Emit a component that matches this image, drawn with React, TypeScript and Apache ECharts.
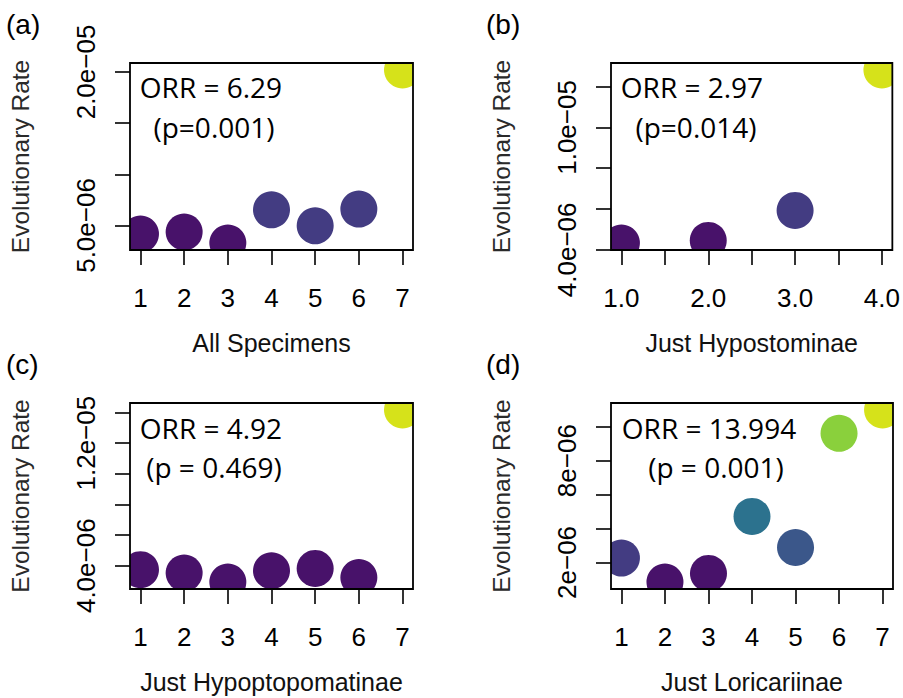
import React, { useEffect, useRef } from "react";
import * as echarts from "echarts";

// ---------- data ----------
const xA = [1, 2, 3, 4, 5, 6, 7];
const yA = [4.16e-6, 4.36e-6, 3.28e-6, 6.53e-6, 4.97e-6, 6.6e-6, 2.02e-5];
const xB = [1, 2, 3, 4];
const yB = [4.33e-6, 4.46e-6, 5.93e-6, 1.282e-5];
const xC = [1, 2, 3, 4, 5, 6, 7];
const yC = [3.74e-6, 3.52e-6, 2.93e-6, 3.67e-6, 3.82e-6, 3.23e-6, 1.417e-5];
const xD = [1, 2, 3, 4, 5, 6, 7];
const yD = [2.26e-6, 0.84e-6, 1.35e-6, 4.71e-6, 2.88e-6, 9.61e-6, 1.099e-5];

// tick positions and labels
const xTicksA = [1, 2, 3, 4, 5, 6, 7];
const xTicksB = [1, 1.5, 2, 2.5, 3, 3.5, 4];
const xLabelsB = [1, 2, 3, 4];
const yTicksA = [5e-6, 1e-5, 1.5e-5, 2e-5];
const yLabelValsA = [5e-6, 2e-5];
const yLabelTextA = ["5.0e\u221206", "2.0e\u221205"];
const yTicksB = [4e-6, 6e-6, 8e-6, 1e-5, 1.2e-5];
const yLabelValsB = [4e-6, 1e-5];
const yLabelTextB = ["4.0e\u221206", "1.0e\u221205"];
const yTicksC = [4e-6, 6e-6, 8e-6, 1e-5, 1.2e-5, 1.4e-5];
const yLabelValsC = [4e-6, 1.2e-5];
const yLabelTextC = ["4.0e\u221206", "1.2e\u221205"];
const yTicksD = [2e-6, 4e-6, 6e-6, 8e-6, 1e-5];
const yLabelValsD = [2e-6, 8e-6];
const yLabelTextD = ["2e\u221206", "8e\u221206"];

const xTitles = ["All Specimens", "Just Hypostominae", "Just Hypoptopomatinae", "Just Loricariinae"];
const panelLetters = ["(a)", "(b)", "(c)", "(d)"];
const orrLines = ["ORR = 6.29", "ORR = 2.97", "ORR = 4.92", "ORR = 13.994"];
const pLines = ["(p=0.001)", "(p=0.014)", "(p = 0.469)", "(p = 0.001)"];

// styles (colours per point)
const PURPLE = "#48126A";
const INDIGO = "#433C82";
const YELLOW = "#D6E21A";
const colorsA = [PURPLE, PURPLE, PURPLE, INDIGO, INDIGO, INDIGO, YELLOW];
const colorsB = [PURPLE, PURPLE, INDIGO, YELLOW];
const colorsC = [PURPLE, PURPLE, PURPLE, PURPLE, PURPLE, PURPLE, YELLOW];
const colorsD = [INDIGO, PURPLE, PURPLE, "#2C728E", "#3B578A", "#8AD03C", YELLOW];

// ---------- layout ----------
const grids = [
  { left: 130, top: 63, width: 283, height: 187 },
  { left: 611, top: 63, width: 282, height: 187 },
  { left: 130, top: 403, width: 283, height: 186 },
  { left: 611, top: 403, width: 282, height: 186 },
];

const SANS = "Liberation Sans";
const ANNO = "Open Sans";

function lim(v: number[]): [number, number] {
  const mn = Math.min(...v);
  const mx = Math.max(...v);
  const r = mx - mn;
  return [mn - 0.04 * r, mx + 0.04 * r];
}

export default function App() {
  const ref = useRef<HTMLDivElement>(null);
  useEffect(() => {
    if (!ref.current) return;
    const chart = echarts.init(ref.current, null, { renderer: "svg" });

    const panels = [
      { x: xA, y: yA, col: colorsA, xt: xTicksA, xl: xTicksA, xfmt: (v: number) => String(v), yt: yTicksA, ylv: yLabelValsA, ylt: yLabelTextA },
      { x: xB, y: yB, col: colorsB, xt: xTicksB, xl: xLabelsB, xfmt: (v: number) => v.toFixed(1), yt: yTicksB, ylv: yLabelValsB, ylt: yLabelTextB },
      { x: xC, y: yC, col: colorsC, xt: xTicksA, xl: xTicksA, xfmt: (v: number) => String(v), yt: yTicksC, ylv: yLabelValsC, ylt: yLabelTextC },
      { x: xD, y: yD, col: colorsD, xt: xTicksA, xl: xTicksA, xfmt: (v: number) => String(v), yt: yTicksD, ylv: yLabelValsD, ylt: yLabelTextD },
    ];

    const tickStyle = { show: true, inside: false, length: 15, lineStyle: { color: "#000", width: 1.6 } };

    const option: any = {
      animation: false,
      backgroundColor: "#fff",
      grid: grids.map((g) => ({ ...g, show: true, borderColor: "#000", borderWidth: 1.8, backgroundColor: "transparent", z: 10 })),
      xAxis: panels.map((p, i) => {
        const [mn, mx] = lim(p.x);
        return {
          type: "value",
          gridIndex: i,
          min: mn,
          max: mx,
          axisLine: { show: false },
          splitLine: { show: false },
          axisTick: { ...tickStyle, customValues: p.xt },
          axisLabel: {
            customValues: p.xl,
            formatter: p.xfmt,
            fontFamily: SANS,
            fontSize: 26,
            color: "#000",
            margin: 35,
          },
          name: xTitles[i],
          nameLocation: "middle",
          nameGap: 80,
          nameTextStyle: { fontFamily: SANS, fontSize: 25, color: "#111" },
          z: 12,
        };
      }),
      yAxis: panels.map((p, i) => {
        const [mn, mx] = lim(p.y);
        return {
          type: "value",
          gridIndex: i,
          min: mn,
          max: mx,
          axisLine: { show: false },
          splitLine: { show: false },
          axisTick: { ...tickStyle, customValues: p.yt },
          axisLabel: {
            customValues: p.ylv,
            rotate: 90,
            formatter: (v: number) => {
              const k = p.ylv.findIndex((t) => Math.abs(t - v) < 1e-12);
              return k >= 0 ? p.ylt[k] : "";
            },
            fontFamily: SANS,
            fontSize: 26,
            color: "#000",
            margin: 31,
          },
          name: "Evolutionary Rate",
          nameLocation: "middle",
          nameGap: 97,
          nameTextStyle: { fontFamily: SANS, fontSize: 24.5, color: "#2a2a2a" },
          z: 12,
        };
      }),
      series: panels.map((p, i) => ({
        type: "custom",
        xAxisIndex: i,
        yAxisIndex: i,
        clip: true,
        z: 2,
        data: p.x.map((xv, j) => [xv, p.y[j]]),
        encode: { x: 0, y: 1 },
        renderItem: (params: any, api: any) => {
          const c = api.coord([api.value(0), api.value(1)]);
          return {
            type: "circle",
            shape: { cx: c[0], cy: c[1], r: 18.5 },
            style: { fill: p.col[params.dataIndex] },
          };
        },
      })),
      graphic: [
        ...panelLetters.map((t, i) => ({
          type: "text",
          z: 20,
          style: {
            text: t,
            x: i % 2 === 0 ? 6 : 486,
            y: i < 2 ? 24 : 364,
            fill: "#000",
            font: `28px "${SANS}"`,
            textAlign: "left",
            textVerticalAlign: "middle",
          },
        })),
        ...orrLines.map((t, i) => ({
          type: "text",
          z: 20,
          style: {
            text: t,
            x: [211, 692, 211, 709][i],
            y: i < 2 ? 87 : 428,
            fill: "#000",
            font: `28px "${ANNO}"`,
            textAlign: "center",
            textVerticalAlign: "middle",
          },
        })),
        ...pLines.map((t, i) => ({
          type: "text",
          z: 20,
          style: {
            text: t,
            x: [214, 696, 214, 716][i],
            y: i < 2 ? 127 : 467,
            fill: "#000",
            font: `28px "${ANNO}"`,
            textAlign: "center",
            textVerticalAlign: "middle",
          },
        })),
      ],
    };
    chart.setOption(option);
    return () => chart.dispose();
  }, []);
  return (
    <div
      ref={ref}
      style={{ position: "absolute", left: 0, top: 0, width: 903, height: 698 }}
    />
  );
}
